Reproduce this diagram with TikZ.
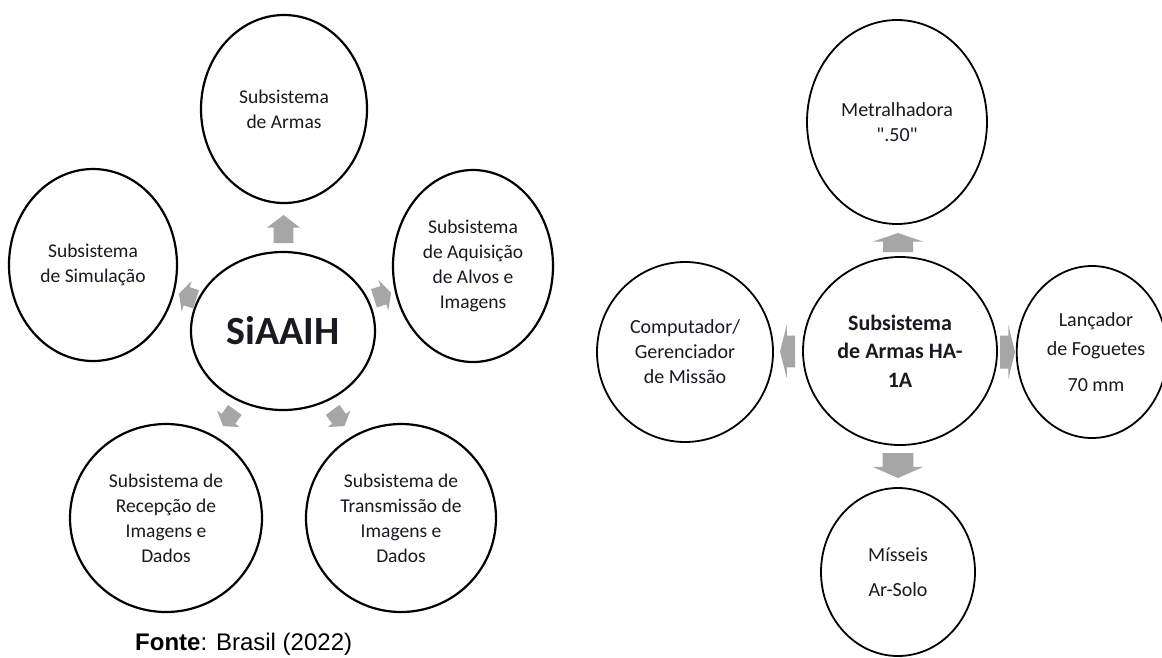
\documentclass[tikz,border=0pt]{standalone}
\usepackage{fontspec}
\setmainfont{Carlito}
\newfontfamily\qfont{Carlito}
\newfontfamily\arialfont{Liberation Sans}
\usetikzlibrary{shapes.geometric}
\definecolor{arrowgray}{RGB}{166,166,166}
\definecolor{txt}{RGB}{25,25,35}
\tikzset{
  sz/.style 2 args={minimum width=#1, minimum height=#2},
  bub/.style={ellipse, draw=black, line width=2.2pt, inner sep=0pt, align=center, text=txt, font=\fontsize{19.5}{25}\selectfont},
  bubr/.style={ellipse, draw=black, line width=1.8pt, inner sep=0pt, align=center, text=txt, font=\fontsize{20}{25}\selectfont},
  blockarrow/.pic={\fill[arrowgray] (-0.5,-0.3) -- (0.05,-0.3) -- (0.05,-0.5) -- (0.5,0) -- (0.05,0.5) -- (0.05,0.3) -- (-0.5,0.3) -- cycle;}
}
\begin{document}
\begin{tikzpicture}[x=1pt,y=-1pt]
\useasboundingbox[fill=white] (0,0) rectangle (1162,657);
% ---------- left diagram ----------
\node[bub, sz={166pt}{188pt}] (armas) at (284,109) {Subsistema\\de Armas};
\node[bub, sz={168pt}{192pt}] (sim) at (93,265) {Subsistema\\de Simulação};
\node[bub, sz={160pt}{192pt}] (aq) at (473,266) {Subsistema\\de Aquisição\\de Alvos e\\Imagens};
\node[bub, sz={184pt}{158pt}, font=\bfseries\fontsize{40}{48}\selectfont] (siaaih) at (283,331) {SiAAIH};
\node[bub, sz={192pt}{188pt}] (rec) at (166,518) {Subsistema de\\Recepção de\\Imagens e\\Dados};
\node[bub, sz={190pt}{188pt}] (tr) at (401,518) {Subsistema de\\Transmissão de\\Imagens e\\Dados};
\pic[rotate=90, xscale=28, yscale=33] at (283.5,229) {blockarrow};
\pic[rotate=162, xscale=18, yscale=32] at (187.5,296.5) {blockarrow};
\pic[rotate=18, xscale=18, yscale=32] at (382.5,295.5) {blockarrow};
\pic[rotate=234, xscale=20, yscale=28] at (229,418) {blockarrow};
\pic[rotate=306, xscale=20, yscale=28] at (338.5,418) {blockarrow};
\node[anchor=base west, inner sep=0pt, text=black, font=\arialfont\fontsize{24}{28}\selectfont] (fonte) at (135,650) {\textbf{Fonte}: Brasil (2022)};
% ---------- right diagram ----------
\node[bubr, sz={180pt}{204pt}] (metr) at (897,122) {Metralhadora\\{\qfont".50"}};
\node[bubr, sz={194pt}{188pt}, font=\bfseries\fontsize{22}{28.5}\selectfont] (ha) at (900,351) {Subsistema\\de Armas HA-\\1A};
\node[bubr, sz={176pt}{180pt}] (comp) at (685,352) {Computador/\\Gerenciador\\de Missão};
\node[bubr, sz={140pt}{172pt}] (lanc) at (1092,352) {\hspace*{8pt}Lançador\\[4pt]\hspace*{8pt}de Foguetes\\[11pt]\hspace*{8pt}70 mm};
\node[bubr, sz={154pt}{168pt}] (mis) at (898,572) {Mísseis\\[10pt]Ar-Solo};
\pic[rotate=90, xscale=19, yscale=50] at (898,242.5) {blockarrow};
\pic[rotate=180, xscale=15, yscale=53] at (787.5,351.5) {blockarrow};
\pic[rotate=0, xscale=15, yscale=55] at (1007.5,352) {blockarrow};
\pic[rotate=270, xscale=25, yscale=51] at (898,465.5) {blockarrow};
\end{tikzpicture}
\end{document}
